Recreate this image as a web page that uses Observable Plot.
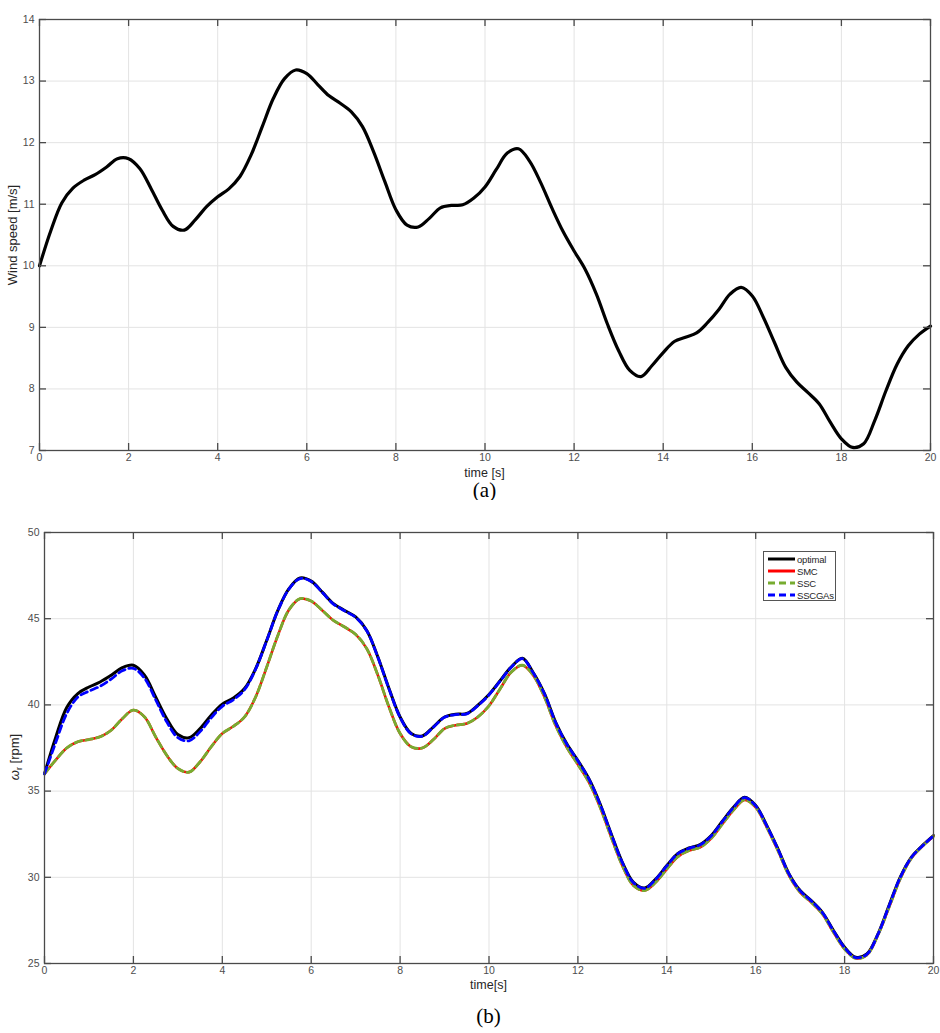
<!DOCTYPE html>
<html>
<head>
<meta charset="utf-8">
<script src="https://cdn.jsdelivr.net/npm/d3@7"></script>
<script src="https://cdn.jsdelivr.net/npm/@observablehq/plot@0.6"></script>
<style>
  html, body { margin: 0; padding: 0; background: #fff; }
  #wrap { position: relative; width: 940px; height: 1033px; font-family: "Liberation Sans", Arial, sans-serif; color: #262626; }
  .abs { position: absolute; }
  .title { font-weight: bold; font-size: 11px; text-align: center; line-height: 14px; color: #1a1a1a; }
  .xlab { font-size: 12.5px; text-align: center; line-height: 13px; color: #262626; }
  .ylab { font-size: 13px; line-height: 16px; white-space: nowrap; transform: translate(-50%, -50%) rotate(-90deg); color: #262626; }
  .cap { font-family: "Liberation Serif", "Times New Roman", serif; font-size: 21px; text-align: center; line-height: 22px; color: #000; }
  #legend { position: absolute; left: 763px; top: 551px; width: 71px; height: 48px; border: 1px solid #555; background: #fff; font-size: 9.5px; color: #262626; letter-spacing: -0.2px; }
  #legend .row { position: absolute; left: 3px; height: 12px; display: flex; align-items: center; }
  #legend svg { display: block; margin-right: 1px; }
</style>
</head>
<body>
<div id="wrap">
  <div class="abs title" style="left:39px;width:891px;top:3px;">Van Der Hoven wind speed profile</div>
  <div id="top" class="abs" style="left:0;top:0;"></div>
  <div class="abs xlab" style="left:39px;width:891px;top:467px;">time [s]</div>
  <div class="abs cap" style="left:39px;width:891px;top:479px;">(a)</div>
  <div class="abs ylab" style="left:13px;top:235px;">Wind speed [m/s]</div>

  <div class="abs title" style="left:44px;width:889px;top:508px;">Temporal variation of wind turbine rotor speed</div>
  <div id="bottom" class="abs" style="left:0;top:500px;"></div>
  <div class="abs xlab" style="left:44px;width:889px;top:979px;">time[s]</div>
  <div class="abs cap" style="left:44px;width:889px;top:1005px;">(b)</div>
  <div class="abs ylab" style="left:17px;top:757px;"><i>ω</i><sub style="font-size:9px;">r</sub> [rpm]</div>
  <div id="legend"></div>
</div>
<script>
// ---- data ----
const time = [0,0.25,0.5,0.75,1,1.25,1.5,1.75,2,2.25,2.5,2.75,3,3.25,3.5,3.75,4,4.25,4.5,4.75,
  5,5.25,5.5,5.75,6,6.25,6.5,6.75,7,7.25,7.5,7.75,8,8.25,8.5,8.75,9,9.25,9.5,9.75,
  10,10.25,10.5,10.75,11,11.25,11.5,11.75,12,12.25,12.5,12.75,13,13.25,13.5,13.75,14,14.25,14.5,14.75,
  15,15.25,15.5,15.75,16,16.25,16.5,16.75,17,17.25,17.5,17.75,18,18.25,18.5,18.75,19,19.25,19.5,19.75,20];

const windSpeed = [10.0,10.56,11.02,11.26,11.39,11.48,11.6,11.74,11.74,11.58,11.26,10.91,10.64,10.58,10.75,10.96,11.12,11.25,11.45,11.8,
  12.26,12.72,13.04,13.18,13.12,12.94,12.76,12.64,12.5,12.26,11.85,11.37,10.91,10.66,10.63,10.77,10.94,10.98,10.99,11.1,
  11.28,11.56,11.83,11.9,11.7,11.35,10.94,10.56,10.24,9.94,9.54,9.05,8.62,8.3,8.2,8.38,8.59,8.77,8.84,8.91,
  9.08,9.29,9.54,9.65,9.51,9.16,8.75,8.35,8.11,7.94,7.76,7.46,7.19,7.05,7.11,7.49,7.97,8.4,8.7,8.89,9.02];

const rotorOptimal = [36.0,38.1,39.85,40.66,41.04,41.33,41.72,42.16,42.3,41.72,40.46,39.2,38.28,38.1,38.63,39.4,40.04,40.4,40.95,42.1,
  43.75,45.48,46.74,47.36,47.18,46.54,45.87,45.48,45.1,44.32,42.78,40.95,39.3,38.34,38.2,38.73,39.3,39.46,39.5,39.98,
  40.6,41.4,42.2,42.7,41.85,40.64,38.99,37.74,36.77,35.7,34.25,32.51,30.87,29.71,29.38,29.9,30.68,31.39,31.7,31.9,
  32.42,33.25,34.06,34.64,34.16,33.0,31.65,30.2,29.23,28.65,27.97,26.91,25.94,25.36,25.55,26.71,28.36,30.0,31.16,31.84,32.42];

const rotorSMC = [36.0,36.8,37.5,37.86,37.99,38.15,38.53,39.2,39.7,39.3,38.15,37.08,36.31,36.1,36.7,37.57,38.34,38.76,39.3,40.46,
  42.2,44.03,45.52,46.16,46.02,45.48,44.9,44.52,44.09,43.26,41.72,39.88,38.34,37.57,37.5,37.99,38.63,38.82,38.92,39.3,
  39.95,40.93,41.9,42.3,41.7,40.44,38.8,37.54,36.54,35.5,34.06,32.32,30.68,29.52,29.23,29.71,30.48,31.2,31.55,31.74,
  32.26,33.09,33.9,34.49,34.06,32.9,31.55,30.1,29.13,28.55,27.87,26.81,25.84,25.3,25.49,26.65,28.26,29.9,31.1,31.8,32.38];

const rotorSSC = [36.0,36.8,37.5,37.86,37.99,38.15,38.53,39.2,39.7,39.3,38.15,37.08,36.31,36.1,36.7,37.57,38.34,38.76,39.3,40.46,
  42.2,44.03,45.52,46.16,46.02,45.48,44.9,44.52,44.09,43.26,41.72,39.88,38.34,37.57,37.5,37.99,38.63,38.82,38.92,39.3,
  39.95,40.93,41.9,42.3,41.7,40.44,38.8,37.54,36.54,35.5,34.06,32.32,30.68,29.52,29.23,29.71,30.48,31.2,31.55,31.74,
  32.26,33.09,33.9,34.49,34.06,32.9,31.55,30.1,29.13,28.55,27.87,26.81,25.84,25.3,25.49,26.65,28.26,29.9,31.1,31.8,32.38];

const rotorSSCGAs = [36.0,37.8,39.5,40.45,40.8,41.08,41.5,41.98,42.12,41.55,40.3,39.02,38.1,37.92,38.45,39.25,39.92,40.3,40.88,42.08,
  43.74,45.47,46.72,47.33,47.16,46.52,45.85,45.46,45.08,44.3,42.76,40.93,39.28,38.32,38.18,38.71,39.28,39.44,39.48,39.96,
  40.58,41.38,42.18,42.68,41.83,40.62,38.97,37.72,36.75,35.68,34.23,32.49,30.85,29.69,29.36,29.88,30.66,31.37,31.68,31.88,
  32.4,33.23,34.04,34.62,34.14,32.98,31.63,30.18,29.21,28.63,27.95,26.89,25.92,25.34,25.53,26.69,28.34,29.98,31.14,31.82,32.4];

const xTicks = [0,2,4,6,8,10,12,14,16,18,20];
const yTicksWind = [7,8,9,10,11,12,13,14];
const yTicksRotor = [25,30,35,40,45,50];

const seriesNames = ["optimal","SMC","SSC","SSCGAs"];
const seriesColors = ["#000000","#ff0000","#77ac30","#0000ff"];
const seriesDash = [null,null,"7,4","7,4"];
const seriesWidth = [3,2.6,2.8,2.8];

// ---- helpers ----
const gridColor = "#e3e3e3";
const axisColor = "#4a4a4a";

function boxedChart({width, height, mt, mb, ml, mr, xDomain, yDomain, yTicks, marks}) {
  const pw = width - ml - mr, ph = height - mt - mb, tl = 7;
  return Plot.plot({
    width, height,
    marginTop: mt, marginBottom: mb, marginLeft: ml, marginRight: mr,
    style: {fontFamily: "Liberation Sans, Arial, sans-serif", fontSize: "10.5px", color: "#4d4d4d", background: "white", overflow: "visible"},
    x: {domain: xDomain, ticks: xTicks},
    y: {domain: yDomain, ticks: yTicks},
    marks: [
      Plot.gridX(xTicks, {stroke: gridColor, strokeOpacity: 1, strokeWidth: 1}),
      Plot.gridY(yTicks, {stroke: gridColor, strokeOpacity: 1, strokeWidth: 1}),
      ...marks,
      Plot.frame({stroke: axisColor, strokeWidth: 1.3}),
      Plot.tickX(xTicks, {x: d => d, insetTop: ph - tl, stroke: axisColor, strokeWidth: 1.3}),
      Plot.tickX(xTicks, {x: d => d, insetBottom: ph - tl, stroke: axisColor, strokeWidth: 1.3}),
      Plot.tickY(yTicks, {y: d => d, insetRight: pw - tl, stroke: axisColor, strokeWidth: 1.3}),
      Plot.tickY(yTicks, {y: d => d, insetLeft: pw - tl, stroke: axisColor, strokeWidth: 1.3}),
      Plot.axisX(xTicks, {tickSize: 0, tickPadding: 3, label: null, fill: "#4d4d4d", tickFormat: d => String(d)}),
      Plot.axisY(yTicks, {tickSize: 0, tickPadding: 5, label: null, fill: "#4d4d4d", tickFormat: d => String(d)})
    ]
  });
}

// ---- top chart ----
const windData = time.map((t, i) => ({t, v: windSpeed[i]}));
const topChart = boxedChart({
  width: 940, height: 480, mt: 19, mb: 30, ml: 39, mr: 10,
  xDomain: [0, 20], yDomain: [7, 14], yTicks: yTicksWind,
  marks: [
    Plot.line(windData, {x: "t", y: "v", stroke: "#000", strokeWidth: 3.2, curve: "catmull-rom"})
  ]
});
document.getElementById("top").appendChild(topChart);

// ---- bottom chart ----
const seriesValues = [rotorOptimal, rotorSMC, rotorSSC, rotorSSCGAs];
const rotorMarks = seriesValues.map((vals, k) =>
  Plot.line(time.map((t, i) => ({t, v: vals[i]})), {
    x: "t", y: "v", stroke: seriesColors[k], strokeWidth: seriesWidth[k],
    strokeDasharray: seriesDash[k], curve: "catmull-rom"
  })
);
const bottomChart = boxedChart({
  width: 940, height: 500, mt: 32, mb: 37, ml: 44, mr: 7,
  xDomain: [0, 20], yDomain: [25, 50], yTicks: yTicksRotor,
  marks: rotorMarks
});
document.getElementById("bottom").appendChild(bottomChart);

// ---- legend ----
const legend = document.getElementById("legend");
seriesNames.forEach((name, k) => {
  const row = document.createElement("div");
  row.className = "row";
  row.style.top = (1 + k * 12) + "px";
  const dash = seriesDash[k] ? `stroke-dasharray="${seriesDash[k]}"` : "";
  row.innerHTML = `<svg width="29" height="6"><line x1="1" y1="3" x2="28" y2="3" stroke="${seriesColors[k]}" stroke-width="3" ${dash}/></svg><span>${name}</span>`;
  legend.appendChild(row);
});
</script>
</body>
</html>
